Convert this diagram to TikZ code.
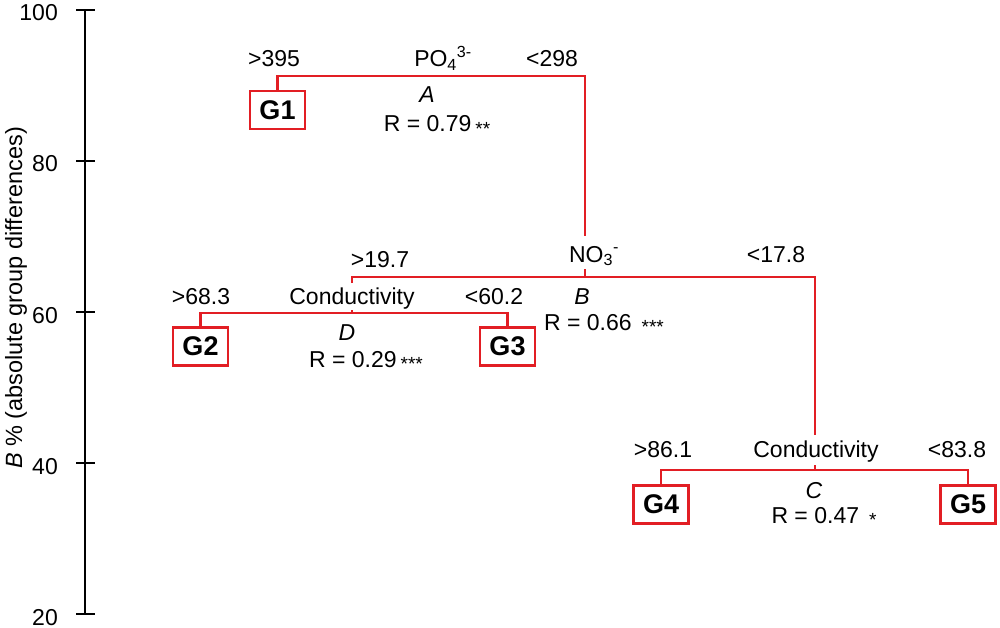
\documentclass[tikz,border=0pt]{standalone}
\usepackage{fontspec}
\setmainfont{Liberation Sans}
\definecolor{treered}{RGB}{226,30,36}
\newcommand{\sigstars}[1]{\raisebox{-3.5pt}{\fontsize{19}{19}\selectfont #1}}
\tikzset{
  lbl/.style={font=\fontsize{23}{23}\selectfont, inner sep=0pt, anchor=base},
  grp/.style={draw=treered, line width=2.4pt, minimum width=55pt, minimum height=38pt, inner sep=0pt, font=\fontsize{27}{27}\selectfont\bfseries},
  branch/.style={draw=treered, line width=2.3pt},
  axisline/.style={draw=black, line width=1.8pt},
  ticklbl/.style={font=\fontsize{23}{23}\selectfont, inner sep=0pt, anchor=base east},
}
\begin{document}
\begin{tikzpicture}[x=1pt,y=-1pt]
\useasboundingbox (0,0) rectangle (1000,628);
% axis
\draw[axisline] (85,10) -- (85,614);
\foreach \v/\yy in {100/10,80/161,60/312,40/463,20/614}{
  \draw[axisline] (76,\yy) -- (95,\yy);
  \node[ticklbl] (t\v) at (58,\yy+11) {\v};
}
\node[font=\fontsize{23.5}{23.5}\selectfont, inner sep=0pt, anchor=base, rotate=90] (ylab) at (22,298) {\textit{B} \% (absolute group differences)};

% group boxes
\node[grp] (G1) at (277.5,110) {G1};
\node[grp] (G2) at (200.5,346.5) {G2};
\node[grp] (G3) at (507.5,346.5) {G3};
\node[grp] (G4) at (661,504.5) {G4};
\node[grp] (G5) at (968,504.5) {G5};

% split A
\node[lbl] (a395) at (274,67) {>395};
\node[lbl] (apo) at (443,67) {PO\textsubscript{4}\textsuperscript{3-}};
\node[lbl] (a298) at (552,67) {<298};
\node[lbl] (aA) at (427,103) {\textit{A}};
\node[lbl] (aR) at (437,132) {R = 0.79\hspace{4pt}\sigstars{**}};

% split B
\node[lbl] (b197) at (380,267) {>19.7};
\node[lbl] (bno) at (594,262) {NO\textsubscript{3}\textsuperscript{-}};
\node[lbl] (b178) at (776,262) {<17.8};
\node[lbl] (bB) at (582,304) {\textit{B}};
\node[lbl] (bR) at (604,330) {R = 0.66\hspace{10pt}\sigstars{***}};

% split D
\node[lbl] (d683) at (201,304) {>68.3};
\node[lbl] (dcond) at (352,304) {Conductivity};
\node[lbl] (d602) at (494,304) {<60.2};
\node[lbl] (dD) at (347,340) {\textit{D}};
\node[lbl] (dR) at (366,367) {R = 0.29\hspace{4pt}\sigstars{***}};

% split C
\node[lbl] (c861) at (663,457) {>86.1};
\node[lbl] (ccond) at (816,457) {Conductivity};
\node[lbl] (c838) at (957,457) {<83.8};
\node[lbl] (cC) at (814,498) {\textit{C}};
\node[lbl] (cR) at (824,523) {R = 0.47\hspace{10pt}\sigstars{*}};

% tree coordinates
\coordinate (a1) at (277.5,76);
\coordinate (a2) at (585,76);
\coordinate (a3) at (585,236);
\coordinate (b0) at (585,269);
\coordinate (b1) at (585,277);
\coordinate (bl) at (352,277);
\coordinate (br) at (815,277);
\coordinate (bl2) at (352,283);
\coordinate (d0) at (352,310);
\coordinate (d1) at (352,313);
\coordinate (dl) at (200.5,313);
\coordinate (dr) at (507.5,313);
\coordinate (br2) at (815,435);
\coordinate (c0) at (815,465);
\coordinate (c1) at (815,470);
\coordinate (cl) at (661,470);
\coordinate (cr) at (968,470);

% branches
\draw[branch] (G1.north) -- (a1) -- (a2) -- (a3);
\draw[branch] (b0) -- (b1);
\draw[branch] (bl2) -- (bl) -- (br) -- (br2);
\draw[branch] (d0) -- (d1);
\draw[branch] (G2.north) -- (dl) -- (dr) -- (G3.north);
\draw[branch] (c0) -- (c1);
\draw[branch] (G4.north) -- (cl) -- (cr) -- (G5.north);
\end{tikzpicture}
\end{document}
